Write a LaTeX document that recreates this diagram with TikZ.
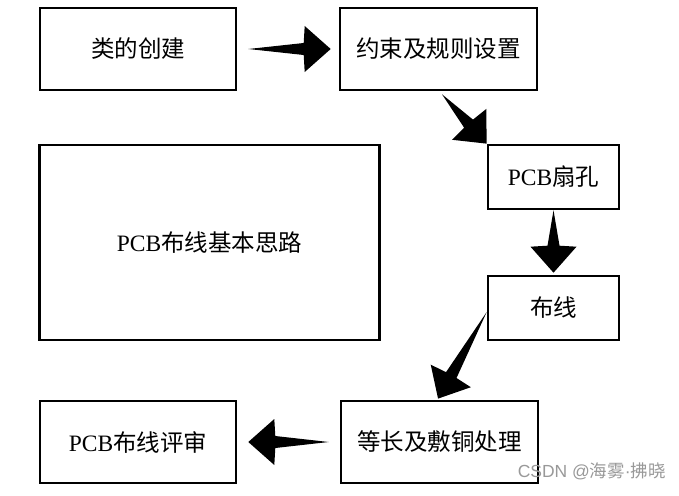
\documentclass[tikz,border=0pt]{standalone}
\usepackage{fontspec}
\setmainfont{Liberation Serif}
\newfontfamily\cjk{Noto Sans CJK SC}
\newfontfamily\wmsans{Liberation Sans}
\usetikzlibrary{calc}
\tikzset{
  box/.style={draw=black, line width=2.6pt, fill=white, inner sep=0pt,
    font=\fontsize{23.5}{27}\selectfont},
  arrowfill/.style={fill=black}
}
\newcommand\blockarrow[2]{%
  \fill[arrowfill] let \p1=($(#2)-(#1)$), \n1={veclen(\x1,\y1)}, \n2={atan2(\y1,\x1)} in
    [shift={(#1)}, rotate=\n2]
    (0,0) -- ({\n1-27},6) -- ({\n1-26},23) -- (\n1,0) -- ({\n1-26},-23) -- ({\n1-27},-6) -- cycle;%
}
\begin{document}
\begin{tikzpicture}[x=1pt,y=-1pt]
\useasboundingbox (0,0) rectangle (679,495);
\fill[white] (0,0) rectangle (679,495);

\node[box, minimum width=196pt, minimum height=82pt] (a) at (138,49) {\cjk 类的创建};
\node[box, minimum width=197pt, minimum height=82pt] (b) at (438.5,49) {\cjk 约束及规则设置};
\node[box, minimum width=131pt, minimum height=64pt] (c) at (553.5,177) {PCB{\cjk 扇孔}};
\node[box, minimum width=131pt, minimum height=64pt] (d) at (553.5,308) {\cjk 布线};
\node[box, minimum width=340pt, minimum height=195pt] (main) at (209.5,242.5) {PCB{\cjk 布线基本思路}};
\node[box, minimum width=197pt, minimum height=82pt] (e) at (439.5,442) {\cjk 等长及敷铜处理};
\node[box, minimum width=196pt, minimum height=82pt] (f) at (138,442) {PCB{\cjk 布线评审}};

\coordinate (a1s) at ([xshift=11pt]a.east);
\coordinate (a1e) at ([xshift=-8pt]b.west);
\coordinate (a2s) at ([xshift=3.5pt,yshift=-3pt]b.south);
\coordinate (a2e) at (c.north west);
\coordinate (a3s) at (c.south);
\coordinate (a3e) at ([yshift=2pt]d.north);
\coordinate (a4s) at ([yshift=-4pt]d.west);
\coordinate (a4e) at ([xshift=-1.5pt,yshift=1pt]e.north);
\coordinate (a5s) at ([xshift=-11pt]e.west);
\coordinate (a5e) at ([xshift=11pt]f.east);

\blockarrow{a1s}{a1e}
\blockarrow{a2s}{a2e}
\blockarrow{a3s}{a3e}
\blockarrow{a4s}{a4e}
\blockarrow{a5s}{a5e}

\node[text=black!40, font=\fontsize{17.5}{19}\selectfont, anchor=east, inner sep=0pt] (wm) at (666,471) {\wmsans CSDN @{\cjk 海雾}·{\cjk 拂晓}};
\end{tikzpicture}
\end{document}
